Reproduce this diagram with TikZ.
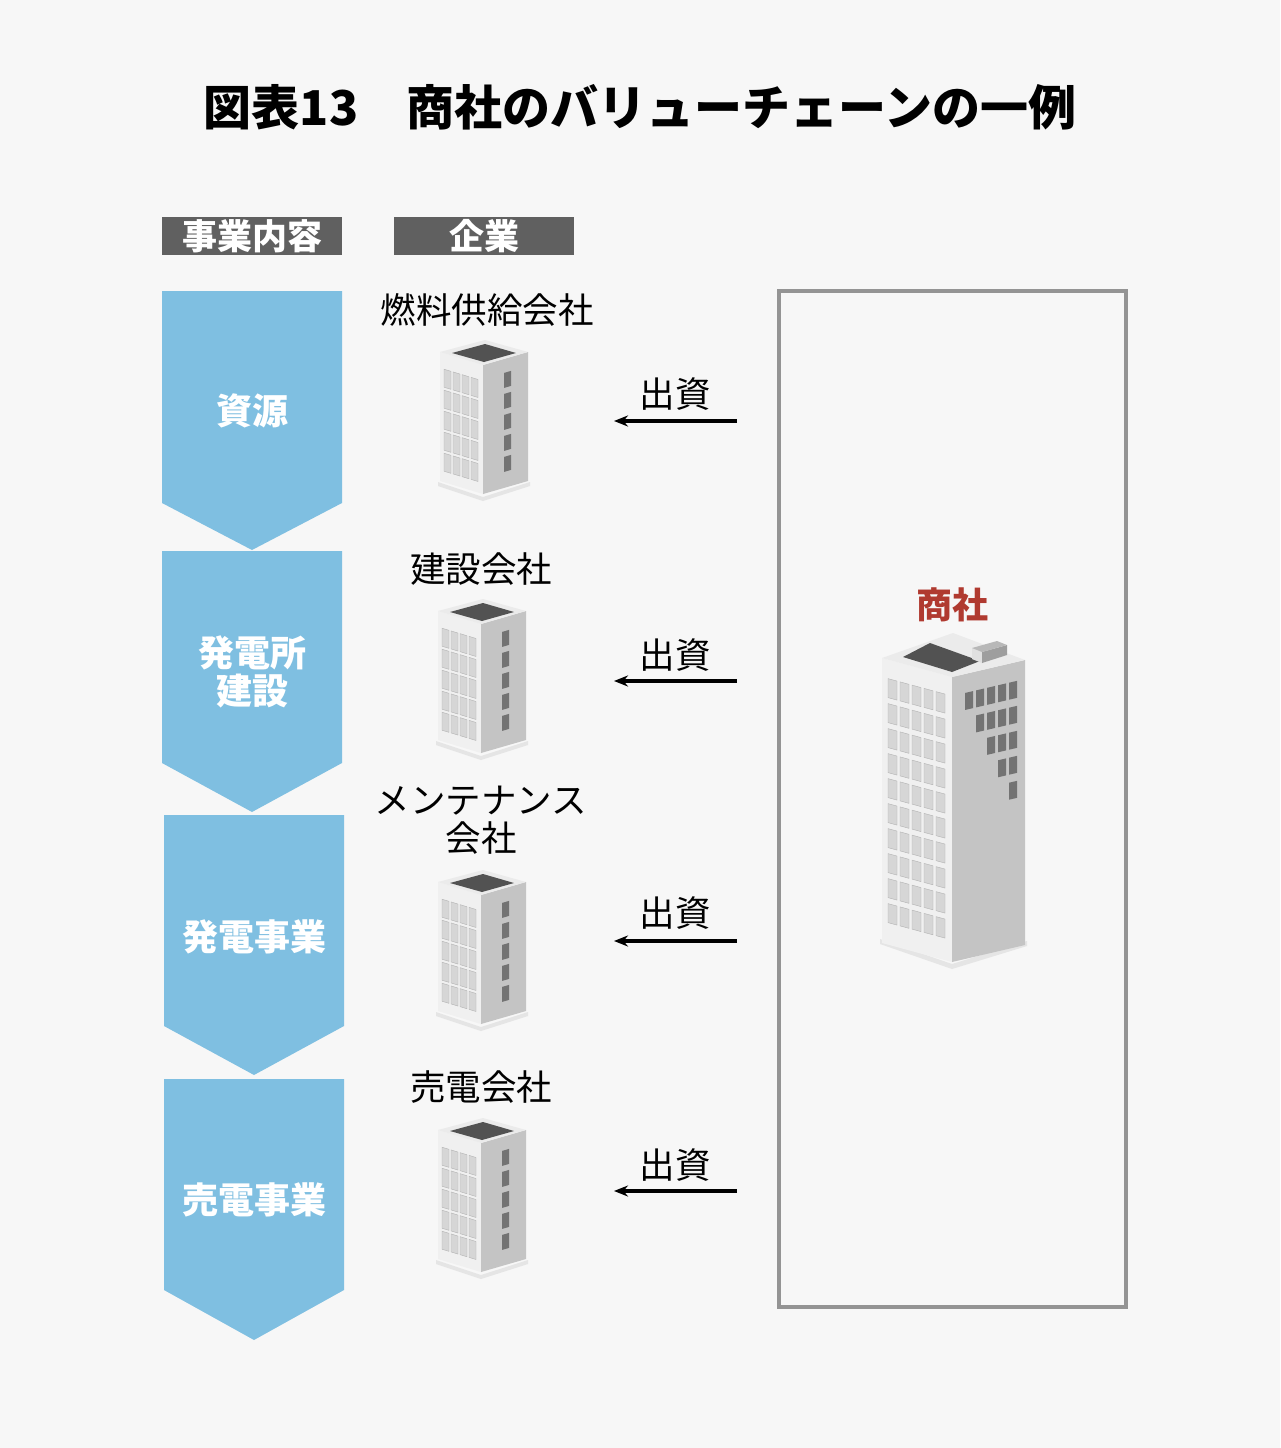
\documentclass[tikz,border=0pt]{standalone}
\usepackage{fontspec}
\setmainfont{Noto Sans CJK JP}
\usetikzlibrary{arrows.meta}
\definecolor{bg}{HTML}{F7F7F7}
\definecolor{chev}{HTML}{7FBFE1}
\definecolor{hdr}{HTML}{606060}
\definecolor{redlab}{HTML}{B03A30}
\tikzset{
 chevron/.style={fill=chev},
 hdrbox/.style={fill=hdr},
 hdrtext/.style={text=white,font=\fontsize{35}{38}\selectfont\bfseries},
 chevtext/.style={text=white,align=center,font=\fontsize{36}{40}\selectfont\bfseries},
 comptext/.style={align=center,font=\fontsize{35.5}{40}\selectfont},
 invest/.style={-{Stealth[length=14pt,width=11pt]},line width=3.2pt},
 investtext/.style={font=\fontsize{35.5}{40}\selectfont},
 bleft/.style={fill=white!94!black},
 bright/.style={fill=white!77!black},
 btop/.style={fill=white!92!black},
 broof/.style={fill=black!68},
 bwin/.style={fill=white!84!black,draw=white!70!black,line width=0.4pt},
 bdark/.style={fill=black!55},
 bshadow/.style={fill=black!10},
}
\newcommand\SmallBldg[1]{%
\begin{scope}[shift={#1}]
 \fill[bshadow] (-45,117) -- (0,132) -- (47,117) -- (47,121) -- (0,136) -- (-45,121) -- cycle;
 \fill[bleft] (-43,-13) -- (0,0) -- (0,129) -- (-43,116) -- cycle;
 \fill[bright] (0,0) -- (45,-13) -- (45,116) -- (0,129) -- cycle;
 \fill[btop] (-43,-13) -- (2,-25) -- (45,-13) -- (0,0) -- cycle;
 \fill[broof] (-31,-12) -- (2,-21) -- (33,-12) -- (1,-3) -- cycle;
 \begin{scope}[shift={(-43,-13)},yslant=-0.302]
  \foreach \c in {0,...,3} \foreach \r in {0,...,4}
   \filldraw[bwin] (4+9*\c,16+21*\r) rectangle ++(7,18);
 \end{scope}
 \begin{scope}[yslant=0.289]
  \foreach \r in {0,...,4} \fill[bdark] (21,14+21*\r) rectangle ++(7,15);
 \end{scope}
\end{scope}}
\begin{document}
\begin{tikzpicture}[x=1pt,y=-1pt]
\fill[bg] (0,0) rectangle (1280,1448);
\useasboundingbox (0,0) rectangle (1280,1448);
\node[font=\fontsize{48}{52}\selectfont\bfseries] (title) at (640,107) {図表13　商社のバリューチェーンの一例};
% headers
\fill[hdrbox] (162,217) rectangle (342,255);
\node[hdrtext] (h1) at (252,236) {事業内容};
\fill[hdrbox] (394,217) rectangle (574,255);
\node[hdrtext] (h2) at (484,236) {企業};
% chevrons
\fill[chevron] (162,291) -- (342,291) -- (342,503) -- (252,550) -- (162,503) -- cycle;
\fill[chevron] (162,551) -- (342,551) -- (342,763) -- (252,812) -- (162,763) -- cycle;
\fill[chevron] (164,815) -- (344,815) -- (344,1026) -- (254,1075) -- (164,1026) -- cycle;
\fill[chevron] (164,1079) -- (344,1079) -- (344,1290) -- (254,1340) -- (164,1290) -- cycle;
\node[chevtext] (c1) at (252,411) {資源};
\node[chevtext] (c2) at (252,672) {発電所\\[-2pt]建設};
\node[chevtext] (c3) at (254,937) {発電事業};
\node[chevtext] (c4) at (254,1200) {売電事業};
% companies
\node[comptext] (k1) at (487,310) {燃料供給会社};
\node[comptext] (k2) at (481,569) {建設会社};
\node[comptext] (k3) at (481,820) {メンテナンス\\[-2pt]会社};
\node[comptext] (k4) at (481,1087) {売電会社};
\SmallBldg{(483,365)}
\SmallBldg{(481,624)}
\SmallBldg{(481,895)}
\SmallBldg{(481,1143)}
% arrows
\foreach \i/\y/\ty in {1/421/394,2/681/655,3/941/913,4/1191/1165}{
 \coordinate (s\i) at (737,\y);
 \coordinate (e\i) at (614,\y);
 \draw[invest] (s\i) -- (e\i);
 \node[investtext] (t\i) at (675,\ty) {出資};
}
% big box
\draw[draw=black!42,line width=3.2pt] (779,291) rectangle (1126,1307);
\node[text=redlab,font=\fontsize{36}{40}\selectfont\bfseries] (shosha) at (952,605) {商社};
\begin{scope}[shift={(952,677)}]
 \fill[bshadow] (-72,262) -- (0,287) -- (75,264) -- (75,269) -- (0,292) -- (-72,267) -- cycle;
 \fill[bleft] (-70,-19) -- (0,0) -- (0,285) -- (-70,266) -- cycle;
 \fill[bright] (0,0) -- (73,-17) -- (73,268) -- (0,285) -- cycle;
 \fill[btop] (-70,-19) -- (1,-44) -- (73,-17) -- (0,0) -- cycle;
 \fill[broof] (-49,-20) -- (-22,-34) -- (28,-16) -- (0,-5) -- cycle;
 \fill[white!88!black] (20,-29) -- (30,-25) -- (30,-14) -- (20,-18) -- cycle;
 \fill[white!62!black] (30,-25) -- (55,-32) -- (55,-22) -- (30,-14) -- cycle;
 \fill[white!72!black] (20,-29) -- (45,-36) -- (55,-32) -- (30,-25) -- cycle;
 \begin{scope}[shift={(-70,-19)},yslant=-0.271]
  \foreach \c in {0,...,4} \foreach \r in {0,...,9}
   \filldraw[bwin] (6+12*\c,19+25*\r) rectangle ++(9,19);
 \end{scope}
 \begin{scope}[yslant=0.233]
  \foreach \r in {0,...,4} \foreach \c in {\r,...,4}
   \fill[bdark] (13+11*\c,19+25*\r) rectangle ++(8,17);
 \end{scope}
\end{scope}
\end{tikzpicture}
\end{document}
